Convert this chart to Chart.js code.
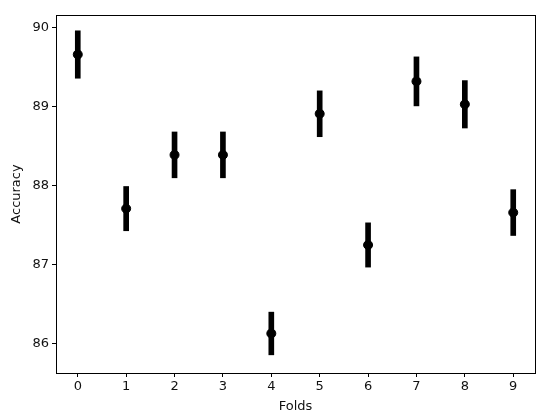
<!DOCTYPE html>
<html>
<head>
<meta charset="utf-8">
<script src="https://cdn.jsdelivr.net/npm/chart.js@4.4.0/dist/chart.umd.min.js"></script>
<style>
  body { margin: 0; background: #fff; }
</style>
</head>
<body>
<canvas id="chart" width="550" height="420"></canvas>
<script>
// Accuracy per fold
const folds = [0, 1, 2, 3, 4, 5, 6, 7, 8, 9];
const accuracy = [89.66, 87.71, 88.39, 88.39, 86.13, 88.91, 87.25, 89.32, 89.03, 87.66];
const errors = [0.30, 0.28, 0.29, 0.29, 0.27, 0.29, 0.28, 0.31, 0.30, 0.29];
const yTicks = [86, 87, 88, 89, 90];

// Draw the frame around the plot area (matplotlib style spines)
const framePlugin = {
    id: 'frame',
    afterDatasetsDraw(chart) {
        const a = chart.chartArea;
        const ctx = chart.ctx;
        ctx.save();
        ctx.strokeStyle = '#000';
        ctx.lineWidth = 1;
        ctx.strokeRect(a.left + 0.5, a.top + 0.5, a.right - a.left, a.bottom - a.top);
        ctx.restore();
    }
};

const font = { family: 'DejaVu Sans', size: 13 };

const ctx = document.getElementById('chart').getContext('2d');
new Chart(ctx, {
    data: {
        datasets: [
            {
                type: 'bar',
                data: folds.map((f, i) => ({ x: f, y: [accuracy[i] - errors[i], accuracy[i] + errors[i]] })),
                backgroundColor: '#000',
                barThickness: 5,
                borderSkipped: false,
                order: 2
            },
            {
                type: 'scatter',
                data: folds.map((f, i) => ({ x: f, y: accuracy[i] })),
                backgroundColor: '#000',
                borderColor: '#000',
                pointRadius: 4.5,
                order: 1
            }
        ]
    },
    options: {
        responsive: false,
        animation: false,
        layout: { padding: { top: 15, right: 15, left: 9, bottom: 6 } },
        plugins: {
            legend: { display: false },
            tooltip: { enabled: false }
        },
        scales: {
            x: {
                type: 'linear',
                min: -0.45,
                max: 9.45,
                offset: false,
                afterBuildTicks: (axis) => { axis.ticks = folds.map(v => ({ value: v })); },
                afterFit: (axis) => { axis.height = 41; },
                grid: { offset: false, drawOnChartArea: false, tickLength: 4, color: '#000', tickColor: '#000' },
                border: { display: false },
                ticks: { color: '#111', font: font, padding: 2, maxRotation: 0 },
                title: { display: true, text: 'Folds', color: '#111', font: font, padding: { top: 2, bottom: 0 } }
            },
            y: {
                min: 85.63,
                max: 90.16,
                afterBuildTicks: (axis) => { axis.ticks = yTicks.map(v => ({ value: v })); },
                afterFit: (axis) => { axis.width = 47; },
                grid: { drawOnChartArea: false, tickLength: 4, color: '#000', tickColor: '#000' },
                border: { display: false },
                ticks: { color: '#111', font: font, padding: 3 },
                title: { display: true, text: 'Accuracy', color: '#111', font: font, padding: { top: 0, bottom: 4 } }
            }
        }
    },
    plugins: [framePlugin]
});
</script>
</body>
</html>
